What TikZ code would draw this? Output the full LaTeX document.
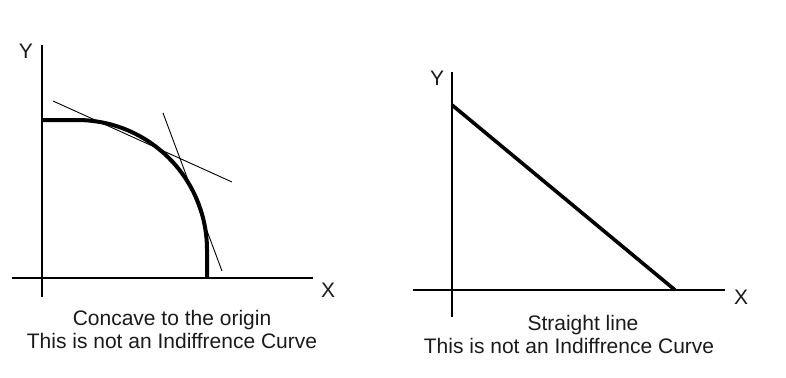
\documentclass[tikz,border=0pt]{standalone}
\usepackage{fontspec}
\setmainfont{Liberation Sans}
\usetikzlibrary{positioning, calc}
\definecolor{cink}{HTML}{000000}
\definecolor{ctext}{HTML}{1A1A1A}
\tikzset{
  every picture/.style={x=1pt, y=1pt},
  axis/.style={draw=cink, line width=2.8pt},
  curve/.style={draw=cink, line width=4pt},
  tangent/.style={draw=cink, line width=0.9pt},
  axislabel/.style={font=\fontsize{21}{23}\selectfont, text=ctext, inner sep=0pt},
  caption/.style={font=\fontsize{21}{23}\selectfont, text=ctext, inner sep=0pt},
}
\begin{document}
\begin{tikzpicture}
  \useasboundingbox (0,0) rectangle (786,-377);
  % left panel: concave curve
  \coordinate (lyt) at (42,-45);
  \coordinate (lyb) at (42,-297);
  \coordinate (lxl) at (12,-278);
  \coordinate (lxr) at (313,-278);
  \draw[axis] (lyt) -- (lyb);
  \draw[axis] (lxl) -- (lxr);
  \coordinate (cs) at (42,-120);
  \coordinate (ca) at (77,-120);
  \coordinate (ce) at (207,-278);
  \draw[curve] (cs) -- (ca) arc[start angle=90, end angle=0, radius=130] -- (ce);
  \coordinate (t1a) at (53,-101);
  \coordinate (t1b) at (232,-182);
  \coordinate (t2a) at (163,-113);
  \coordinate (t2b) at (222,-271);
  \draw[tangent] (t1a) -- (t1b);
  \draw[tangent] (t2a) -- (t2b);
  \node[axislabel] (ly) at (26,-51) {Y};
  \node[axislabel] (lx) at (328,-290) {X};
  \node[caption] (lc1) at (172,-320) {Concave to the origin};
  \node[caption] (lc2) at (172,-341) {This is not an Indiffrence Curve};
  % right panel: straight line
  \coordinate (ryt) at (452,-72);
  \coordinate (ryb) at (452,-317);
  \coordinate (rxl) at (413,-290);
  \coordinate (rxr) at (725,-290);
  \draw[axis] (ryt) -- (ryb);
  \draw[axis] (rxl) -- (rxr);
  \coordinate (sa) at (452,-105);
  \coordinate (sb) at (675,-290);
  \draw[curve, line width=3.6pt] (sa) -- (sb);
  \node[axislabel] (ry) at (437,-78) {Y};
  \node[axislabel] (rx) at (741,-297) {X};
  \node[caption] (rc1) at (583,-325) {Straight line};
  \node[caption] (rc2) at (569,-346) {This is not an Indiffrence Curve};
\end{tikzpicture}
\end{document}
